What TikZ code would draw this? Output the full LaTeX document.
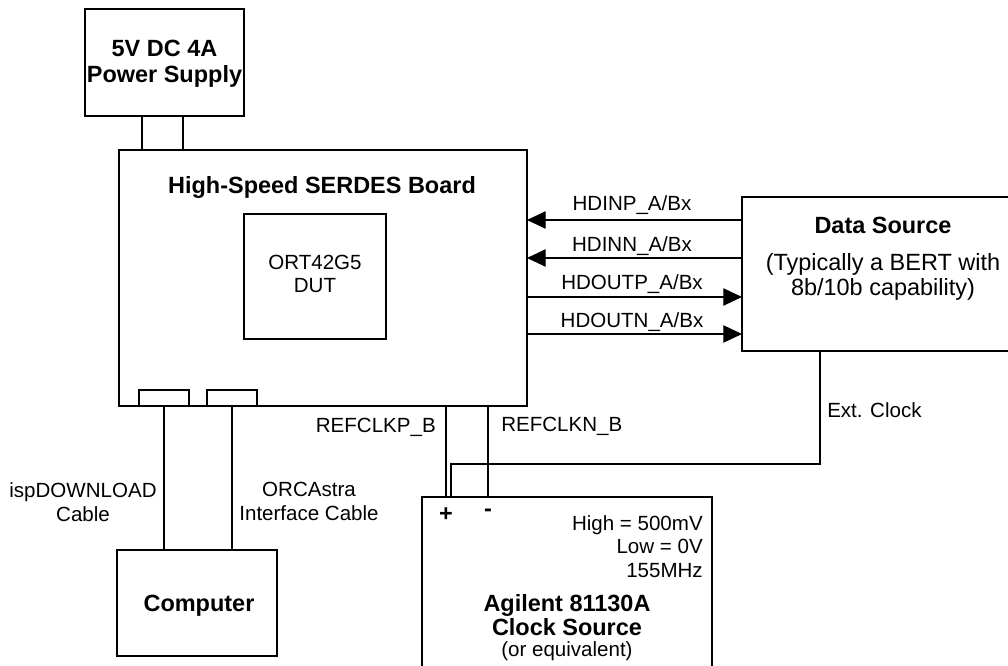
\documentclass[tikz,border=0pt]{standalone}
\usepackage{fontspec}
\setmainfont{Liberation Sans}
\usetikzlibrary{arrows.meta,positioning,calc}

\newcommand{\lblsize}{\fontsize{15.4pt}{18pt}\selectfont}
\newcommand{\bigsize}{\fontsize{17.6pt}{20pt}\selectfont}
\newcommand{\ttlsize}{\fontsize{17.6pt}{20pt}\selectfont\bfseries}

\begin{document}
\begin{tikzpicture}[
    x=0.75pt, y=-0.75pt,
    font=\lblsize,
    unit/.style={draw, line width=0.9pt, inner sep=0pt, outer sep=0pt},
    ttl/.style={font=\ttlsize, anchor=base, inner sep=0pt},
    lbl/.style={font=\lblsize, anchor=base, inner sep=0pt},
    wire/.style={line width=0.9pt},
    arr/.style={-{Triangle[length=14pt,width=13pt]}, line width=0.9pt},
  ]
  \useasboundingbox (0,0) rectangle (1008,666);

  % boxes
  \node[unit, minimum width=119.25pt, minimum height=80.25pt] (psu)  at (164.5,62.5) {};
  \node[unit, minimum width=306pt,    minimum height=192pt]   (board) at (323,278) {};
  \node[unit, minimum width=106.5pt,  minimum height=93.75pt] (dut)  at (315,276.5) {};
  \node[unit, minimum width=37.5pt,   minimum height=12pt]    (jtag) at (164,398) {};
  \node[unit, minimum width=37.5pt,   minimum height=12pt]    (orca) at (232,398) {};
  \node[unit, minimum width=120pt,    minimum height=79.5pt]  (pc)   at (197,603) {};
  \node[unit, minimum width=211.5pt,  minimum height=115.5pt] (data) at (883,274) {};
  \node[unit, minimum width=217.5pt,  minimum height=152.25pt] (clk) at (567,598.5) {};

  % texts
  \node[ttl] (psuA) at (164.5,57) {5V DC 4A};
  \node[ttl] (psuB) at (164.5,83) {Power Supply};
  \node[ttl] (boardT) at (322,194) {High-Speed SERDES Board};
  \node[lbl] (dutA) at (315,270) {ORT42G5};
  \node[lbl] (dutB) at (315,293) {DUT};
  \node[ttl] (dataA) at (883,234) {Data Source};
  \node[lbl, font=\bigsize] (dataB) at (883,271) {(Typically a BERT with};
  \node[lbl, font=\bigsize] (dataC) at (883,296) {8b/10b capability)};
  \node[ttl] (pcT) at (199,612) {Computer};
  \node[lbl] (ispA) at (83,498) {ispDOWNLOAD};
  \node[lbl] (ispB) at (83,522) {Cable};
  \node[lbl] (orcA) at (309,497) {ORCAstra};
  \node[lbl] (orcB) at (309,521) {Interface Cable};
  \node[lbl, anchor=base east] (refPT) at (436,433) {REFCLKP\_B};
  \node[lbl, anchor=base west] (refNT) at (501,432) {REFCLKN\_B};
  \node[lbl, anchor=base west] (extT) at (827,418) {Ext. Clock};
  \node[font=\ttlsize, inner sep=0pt] (plus) at (446,515) {+};
  \node[font=\ttlsize, inner sep=0pt] (minus) at (488,513) {-};
  \node[lbl, anchor=base east] (clkA) at (703,531) {High = 500mV};
  \node[lbl, anchor=base east] (clkB) at (703,554) {Low = 0V};
  \node[lbl, anchor=base east] (clkC) at (703,578) {155MHz};
  \node[ttl] (clkD) at (567,612) {Agilent 81130A};
  \node[ttl] (clkE) at (567,636) {Clock Source};
  \node[lbl] (clkF) at (567,657) {(or equivalent)};

  % power leads
  \coordinate (pwrA) at (142,0);
  \coordinate (pwrB) at (183,0);
  \draw[wire] (psu.south -| pwrA) -- (board.north -| pwrA);
  \draw[wire] (psu.south -| pwrB) -- (board.north -| pwrB);

  % cables to the computer
  \draw[wire] (jtag.south) -- (jtag.south |- pc.north);
  \draw[wire] (orca.south) -- (orca.south |- pc.north);

  % serial lanes
  \coordinate (inP)  at (0,220);
  \coordinate (inN)  at (0,258);
  \coordinate (outP) at (0,297);
  \coordinate (outN) at (0,334);
  \draw[arr] (data.west |- inP)  -- (board.east |- inP);
  \draw[arr] (data.west |- inN)  -- (board.east |- inN);
  \draw[arr] (board.east |- outP) -- (data.west |- outP);
  \draw[arr] (board.east |- outN) -- (data.west |- outN);
  \node[lbl] (inPT)  at (632,211) {HDINP\_A/Bx};
  \node[lbl] (inNT)  at (632,252) {HDINN\_A/Bx};
  \node[lbl] (outPT) at (632,290) {HDOUTP\_A/Bx};
  \node[lbl] (outNT) at (632,328) {HDOUTN\_A/Bx};

  % reference clock
  \coordinate (refP) at (446,0);
  \coordinate (refN) at (488,0);
  \draw[wire] (board.south -| refP) -- (clk.north -| refP);
  \draw[wire] (board.south -| refN) -- (clk.north -| refN);

  % external clock
  \coordinate (extBend) at (820,464);
  \coordinate (extIn) at (451,0);
  \draw[wire] (data.south -| extBend) -- (extBend) -| (clk.north -| extIn);
\end{tikzpicture}
\end{document}
